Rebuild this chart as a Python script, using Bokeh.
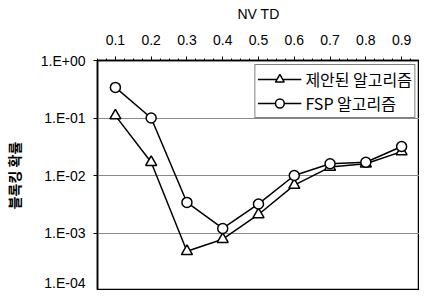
from bokeh.plotting import figure
from bokeh.models import FixedTicker, Range1d, Legend, LegendItem
from bokeh.embed import file_html
from bokeh.resources import INLINE

nvtd = [0.1, 0.2, 0.3, 0.4, 0.5, 0.6, 0.7, 0.8, 0.9]
x_labels = ["0.1", "0.2", "0.3", "0.4", "0.5", "0.6", "0.7", "0.8", "0.9"]
proposed = [0.11, 0.017, 0.00048, 0.00078, 0.0021, 0.0068, 0.014, 0.016, 0.026]
fsp = [0.34, 0.10, 0.0034, 0.0012, 0.0032, 0.010, 0.016, 0.017, 0.032]
y_ticks = [1e-4, 1e-3, 1e-2, 1e-1, 1.0]
y_labels = ["1.E-04", "1.E-03", "1.E-02", "1.E-01", "1.E+00"]
series_names = ["제안된 알고리즘", "FSP 알고리즘"]

p = figure(width=419, height=290, y_axis_type="log", x_axis_location="above",
           output_backend="svg", toolbar_location=None,
           x_range=Range1d(0.05, 0.95), y_range=Range1d(1e-4, 1.0),
           min_border_left=88, min_border_right=0, min_border_top=60,
           min_border_bottom=0)

p.background_fill_color = "white"
p.border_fill_color = "white"
p.outline_line_color = "black"
p.outline_line_width = 1.5

xa = p.xaxis[0]
xa.ticker = FixedTicker(ticks=nvtd, minor_ticks=[0.05 + 0.025 * i for i in range(37)])
xa.major_label_overrides = {v: l for v, l in zip(nvtd, x_labels)}
xa.axis_label = "NV TD"
xa.axis_label_text_font = "Liberation Sans"
xa.axis_label_text_font_style = "normal"
xa.axis_label_text_font_size = "14px"
xa.axis_label_text_color = "black"
xa.axis_label_standoff = 10
xa.major_label_text_font = "Liberation Sans"
xa.major_label_text_font_size = "14px"
xa.major_label_text_color = "black"
xa.major_label_standoff = 12
xa.major_tick_out = 4
xa.major_tick_in = 0
xa.minor_tick_out = 2
xa.minor_tick_in = 0
xa.axis_line_width = 1.5

ya = p.yaxis[0]
ya.ticker = FixedTicker(ticks=y_ticks, minor_ticks=[])
ya.major_label_overrides = {v: l for v, l in zip(y_ticks, y_labels)}
ya.axis_label = "블록킹 확률"
ya.axis_label_text_font = "Noto Sans CJK KR"
ya.axis_label_text_font_style = "bold"
ya.axis_label_text_font_size = "14px"
ya.axis_label_text_color = "black"
ya.axis_label_standoff = 14
ya.major_label_text_font = "Liberation Sans"
ya.major_label_text_font_size = "14px"
ya.major_label_text_color = "black"
ya.major_label_standoff = 8
ya.major_tick_out = 4
ya.major_tick_in = 0
ya.axis_line_width = 1.5

p.xgrid.visible = False
p.ygrid.grid_line_color = "#888888"
p.ygrid.grid_line_width = 1

r1 = p.line(nvtd, proposed, line_color="black", line_width=1.5)
m1 = p.scatter(nvtd, proposed, marker="triangle", size=11, line_color="black",
               fill_color="white", line_width=1.5)
r2 = p.line(nvtd, fsp, line_color="black", line_width=1.5)
m2 = p.scatter(nvtd, fsp, marker="circle", size=10, line_color="black",
               fill_color="white", line_width=1.5)

legend = Legend(items=[LegendItem(label=series_names[0], renderers=[r1, m1]),
                       LegendItem(label=series_names[1], renderers=[r2, m2])],
                location="top_right")
legend.label_text_font = "Noto Sans CJK KR"
legend.label_text_font_size = "16px"
legend.label_text_color = "black"
legend.border_line_color = "black"
legend.border_line_width = 1.5
legend.background_fill_alpha = 1
legend.glyph_width = 44
legend.glyph_height = 22
legend.label_height = 22
legend.spacing = 0
legend.padding = 2
legend.margin = 4
legend.label_standoff = 4
p.add_layout(legend)

open("out.html", "w").write(file_html(p, INLINE))
